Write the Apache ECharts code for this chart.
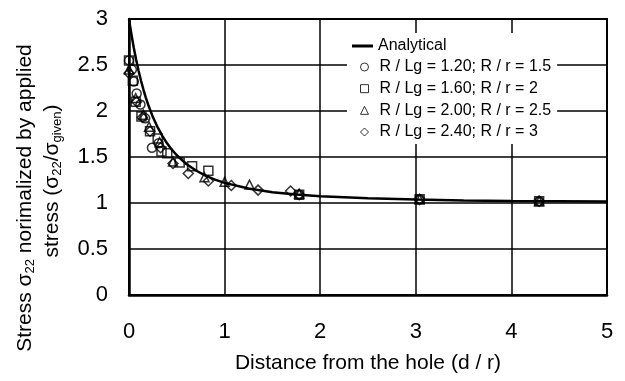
<!DOCTYPE html>
<html>
<head>
<meta charset="utf-8">
<script src="https://cdn.jsdelivr.net/npm/echarts@6/dist/echarts.min.js"></script>
<style>
html,body{margin:0;padding:0;background:#fff;}
#chart{width:625px;height:381px;}
</style>
</head>
<body>
<div id="chart"></div>
<script>
// ---- data ----
var xTicks = [0, 1, 2, 3, 4, 5];
var yTicks = [0, 0.5, 1, 1.5, 2, 2.5, 3];
var seriesNames = ['Analytical', 'R / Lg = 1.20; R / r = 1.5', 'R / Lg = 1.60; R / r = 2', 'R / Lg = 2.00; R / r = 2.5', 'R / Lg = 2.40; R / r = 3'];

var analyticalD = [0, 0.01, 0.02, 0.03, 0.05, 0.075, 0.1, 0.125, 0.15, 0.175, 0.2, 0.25, 0.3, 0.35, 0.4, 0.45, 0.5, 0.6, 0.7, 0.8, 0.9, 1.0, 1.25, 1.5, 1.75, 2, 2.5, 3, 3.5, 4, 4.5, 5];
var analyticalS = [3.000, 2.932, 2.866, 2.804, 2.688, 2.556, 2.438, 2.332, 2.236, 2.149, 2.071, 1.934, 1.821, 1.726, 1.646, 1.577, 1.519, 1.424, 1.353, 1.297, 1.254, 1.219, 1.157, 1.118, 1.092, 1.074, 1.051, 1.037, 1.028, 1.022, 1.018, 1.015];

var circleD = [0, 0.03, 0.05, 0.08, 0.12, 0.17, 0.24, 0.31, 1.78, 3.04, 4.29];
var circleS = [2.55, 2.45, 2.32, 2.19, 2.07, 1.92, 1.60, 1.65, 1.09, 1.04, 1.02];

var squareD = [0, 0.04, 0.07, 0.13, 0.22, 0.30, 0.34, 0.40, 0.53, 0.66, 0.83, 1.78, 3.04, 4.29];
var squareS = [2.55, 2.33, 2.10, 1.94, 1.78, 1.70, 1.56, 1.54, 1.44, 1.40, 1.35, 1.09, 1.04, 1.02];

var triangleD = [0, 0.07, 0.15, 0.21, 0.32, 0.46, 0.79, 1.00, 1.26, 1.78, 3.04, 4.29];
var triangleS = [2.45, 2.14, 1.96, 1.83, 1.66, 1.45, 1.28, 1.23, 1.20, 1.10, 1.04, 1.02];

var diamondD = [0, 0.08, 0.14, 0.22, 0.33, 0.46, 0.62, 0.83, 1.07, 1.35, 1.69, 1.78, 3.04, 4.29];
var diamondS = [2.41, 2.10, 1.93, 1.78, 1.60, 1.43, 1.32, 1.24, 1.19, 1.14, 1.13, 1.09, 1.04, 1.02];

function zip(a, b) { return a.map(function (v, i) { return [v, b[i]]; }); }

var FONT = 'Liberation Sans, Arial, sans-serif';
var chart = echarts.init(document.getElementById('chart'), null, {renderer: 'canvas'});

var markerStyle = {color: 'none', borderColor: '#000', borderWidth: 1.5};
var legendIconStyle = {color: 'none', borderColor: '#000', borderWidth: 1};
var legendText = {fontFamily: FONT, fontSize: 16, color: '#000', lineHeight: 18};

chart.setOption({
  animation: false,
  backgroundColor: '#fff',
  grid: {left: 129, right: 18, top: 19, bottom: 86, show: true, borderColor: '#000', borderWidth: 2, backgroundColor: 'transparent'},
  xAxis: {
    type: 'value', min: 0, max: 5, interval: 1,
    name: 'Distance from the hole (d / r)', nameLocation: 'middle', nameGap: 58,
    nameTextStyle: {fontFamily: FONT, fontSize: 21, color: '#000'},
    axisLine: {show: true, lineStyle: {color: '#000', width: 2.5}},
    axisTick: {show: false},
    axisLabel: {fontFamily: FONT, fontSize: 22, color: '#000', margin: 26,
      formatter: function (v) { return xTicks.indexOf(v) >= 0 ? String(v) : ''; }},
    splitLine: {show: true, lineStyle: {color: '#000', width: 1.5}}
  },
  yAxis: {
    type: 'value', min: 0, max: 3, interval: 0.5,
    axisLine: {show: true, lineStyle: {color: '#000', width: 2.5}},
    axisTick: {show: false},
    axisLabel: {fontFamily: FONT, fontSize: 22, color: '#000', margin: 21,
      formatter: function (v) { return yTicks.indexOf(v) >= 0 ? String(v) : ''; }},
    splitLine: {show: true, lineStyle: {color: '#000', width: 1.5}}
  },
  legend: [
    {
      orient: 'vertical', left: 347, top: 33,
      backgroundColor: '#fff', padding: [4, 108, 2, 5],
      itemWidth: 21, itemHeight: 3, itemGap: 0,
      textStyle: legendText,
      data: [{name: seriesNames[0], icon: 'rect', itemStyle: {color: '#000', borderWidth: 0}}]
    },
    {
      orient: 'vertical', left: 347, top: 55,
      backgroundColor: '#fff', padding: [3, 6, 3, 11],
      itemWidth: 8, itemHeight: 8, itemGap: 3.67,
      textStyle: {fontFamily: FONT, fontSize: 16, color: '#000', lineHeight: 18, padding: [0, 0, 0, 6]},
      data: [
        {name: seriesNames[1], icon: 'circle', itemStyle: legendIconStyle},
        {name: seriesNames[2], icon: 'rect', itemStyle: legendIconStyle},
        {name: seriesNames[3], icon: 'triangle', itemStyle: legendIconStyle},
        {name: seriesNames[4], icon: 'diamond', itemStyle: legendIconStyle}
      ]
    }
  ],
  graphic: [
    {type: 'text', x: 25, y: 198, rotation: Math.PI / 2, z: 10,
      style: {text: '{n|Stress σ}{s|22}{n| norimalized by applied}', align: 'center', verticalAlign: 'middle',
        rich: {n: {fontFamily: FONT, fontSize: 21, fill: '#000'}, s: {fontFamily: FONT, fontSize: 13, fill: '#000', verticalAlign: 'bottom', lineHeight: 24}}}},
    {type: 'text', x: 52, y: 181, rotation: Math.PI / 2, z: 10,
      style: {text: '{n|stress (σ}{s|22}{n|/σ}{s|given}{n|)}', align: 'center', verticalAlign: 'middle',
        rich: {n: {fontFamily: FONT, fontSize: 21, fill: '#000'}, s: {fontFamily: FONT, fontSize: 13, fill: '#000', verticalAlign: 'bottom', lineHeight: 24}}}}
  ],
  series: [
    {name: seriesNames[0], type: 'line', data: zip(analyticalD, analyticalS), showSymbol: false, symbol: 'none',
      lineStyle: {color: '#000', width: 2.5}, itemStyle: {color: '#000'}, z: 3},
    {name: seriesNames[1], type: 'scatter', symbol: 'circle', symbolSize: 9, data: zip(circleD, circleS), itemStyle: markerStyle, z: 4},
    {name: seriesNames[2], type: 'scatter', symbol: 'rect', symbolSize: 9, data: zip(squareD, squareS), itemStyle: markerStyle, z: 4},
    {name: seriesNames[3], type: 'scatter', symbol: 'triangle', symbolSize: 9, data: zip(triangleD, triangleS), itemStyle: markerStyle, z: 4},
    {name: seriesNames[4], type: 'scatter', symbol: 'diamond', symbolSize: 10, data: zip(diamondD, diamondS), itemStyle: markerStyle, z: 4}
  ]
});
</script>
</body>
</html>
